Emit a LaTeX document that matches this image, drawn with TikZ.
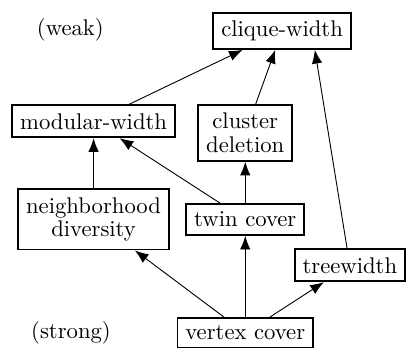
\documentclass[tikz,border=0pt]{standalone}
\usepackage{xcolor}
\usepackage{amsfonts,amsmath,amssymb}
\usepackage{tikz}
\usetikzlibrary{arrows.meta}

\begin{document}
\begin{tikzpicture}[param/.style = {draw, thick, inner sep = 3.5pt, align = center},
                    reduz/.style = {-{Latex[length=6pt, width=4.6pt]}}]
            % Marco
            \useasboundingbox (0,0) rectangle (6.29,5.38);
            % Parametros
            \node (weak) at (1.09,4.91) {(weak)};
            \node (strong) at (1.10,0.22) {(strong)};
            \node[param] (cw) at (4.37,4.90) {clique-width};
            \node[param] (mw) at (1.45,3.50) {modular-width};
            \node[param] (cd) at (3.80,3.32) {cluster\\[-1.5pt] deletion};
            \node[param] (nd) at (1.45,1.98) {neighborhood\\[-1.5pt] diversity};
            \node[param] (tc) at (3.80,1.98) {twin cover};
            \node[param] (tw) at (5.42,1.27) {treewidth};
            \node[param] (vc) at (3.80,0.22) {vertex cover};
            % Flechas
            \draw[reduz] (mw) -- (cw);
            \draw[reduz] (cd) -- (cw);
            \draw[reduz] (tw) -- (cw.-30);
            \draw[reduz] (nd) -- (mw);
            \draw[reduz] (tc) -- (mw);
            \draw[reduz] (tc) -- (cd);
            \draw[reduz] (vc) -- (nd);
            \draw[reduz] (vc) -- (tc);
            \draw[reduz] (vc) -- (tw);
       \end{tikzpicture}
\end{document}
